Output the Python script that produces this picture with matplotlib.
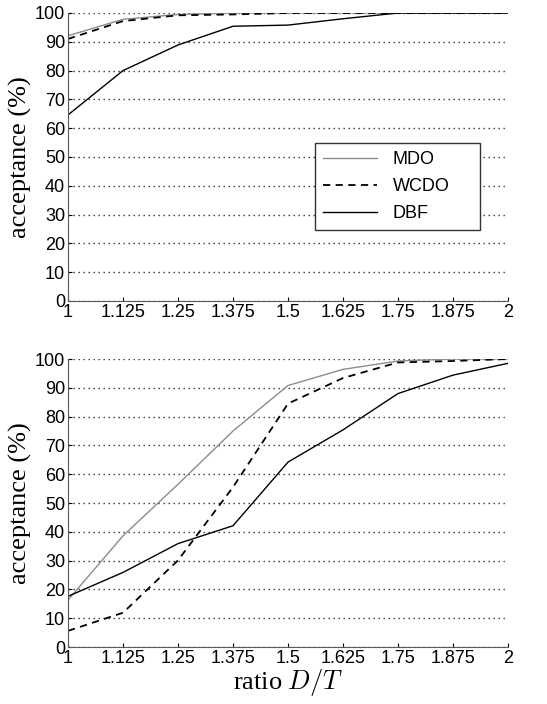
import matplotlib
matplotlib.use("Agg")
import matplotlib.pyplot as plt

# ratio D/T
ratio = [1, 1.125, 1.25, 1.375, 1.5, 1.625, 1.75, 1.875, 2]
tick_labels = ["1", "1.125", "1.25", "1.375", "1.5", "1.625", "1.75", "1.875", "2"]

# top panel
mdo_top = [92.1, 97.8, 99.5, 100, 100, 100, 100, 100, 100]
wcdo_top = [91.0, 97.2, 99.2, 99.5, 100, 100, 100, 100, 100]
dbf_top = [64.6, 80.0, 88.9, 95.4, 95.8, 98.0, 100, 100, 100]

# bottom panel
mdo_bot = [16.3, 38.6, 56.5, 75.0, 90.8, 96.4, 99.3, 100, 100]
wcdo_bot = [5.6, 11.9, 30.1, 55.5, 84.5, 93.4, 98.8, 99.3, 100]
dbf_bot = [17.6, 25.9, 35.9, 42.1, 64.2, 75.4, 88.0, 94.4, 98.5]

plt.rcParams['font.family'] = ['Liberation Sans', 'DejaVu Sans']
plt.rcParams['mathtext.fontset'] = 'cm'

fig = plt.figure(figsize=(5.47, 7.04), dpi=100)
W, H = 547.0, 704.0
ax1 = fig.add_axes([68 / W, 1 - 301 / H, 440 / W, 288 / H])
ax2 = fig.add_axes([68 / W, 1 - 647 / H, 440 / W, 288 / H])


def style(ax):
    ax.set_xlim(1, 2)
    ax.set_ylim(0, 100)
    ax.set_xticks(ratio)
    ax.set_xticklabels(tick_labels)
    ax.set_yticks(range(0, 101, 10))
    ax.tick_params(labelsize=13, direction='in', length=3, pad=2)
    ax.spines['top'].set_visible(False)
    ax.spines['right'].set_visible(False)
    ax.spines['left'].set_color('0.35')
    ax.spines['bottom'].set_color('0.35')
    ax.grid(axis='y', color='0.2', linestyle=(0, (1, 2.6)), linewidth=1.0)
    ax.set_axisbelow(True)
    ax.set_ylabel('acceptance (%)', family=['Liberation Serif'], fontsize=19, labelpad=2)


for ax, m, w, d in [(ax1, mdo_top, wcdo_top, dbf_top), (ax2, mdo_bot, wcdo_bot, dbf_bot)]:
    ax.plot(ratio, m, color='0.55', linewidth=1.0, label='MDO')
    ax.plot(ratio, w, color='black', linewidth=1.3, linestyle=(0, (4, 3)), label='WCDO')
    ax.plot(ratio, d, color='black', linewidth=1.0, label='DBF')
    style(ax)

# legend box is wider than its text, so stretch it over a fixed box
leg = ax1.legend(loc='upper left', bbox_to_anchor=(0.561, 0.25, 0.375, 0.299), mode='expand',
                 fontsize=13, frameon=True, fancybox=False, framealpha=1, edgecolor='0.2',
                 handlelength=3.0, borderpad=0.45, labelspacing=0.55, handletextpad=0.85,
                 borderaxespad=0)
leg.get_frame().set_linewidth(1.0)

ax2.set_xlabel('ratio $D/T$', family=['Liberation Serif'], fontsize=19, labelpad=0)

fig.savefig('out.png', dpi=100)
